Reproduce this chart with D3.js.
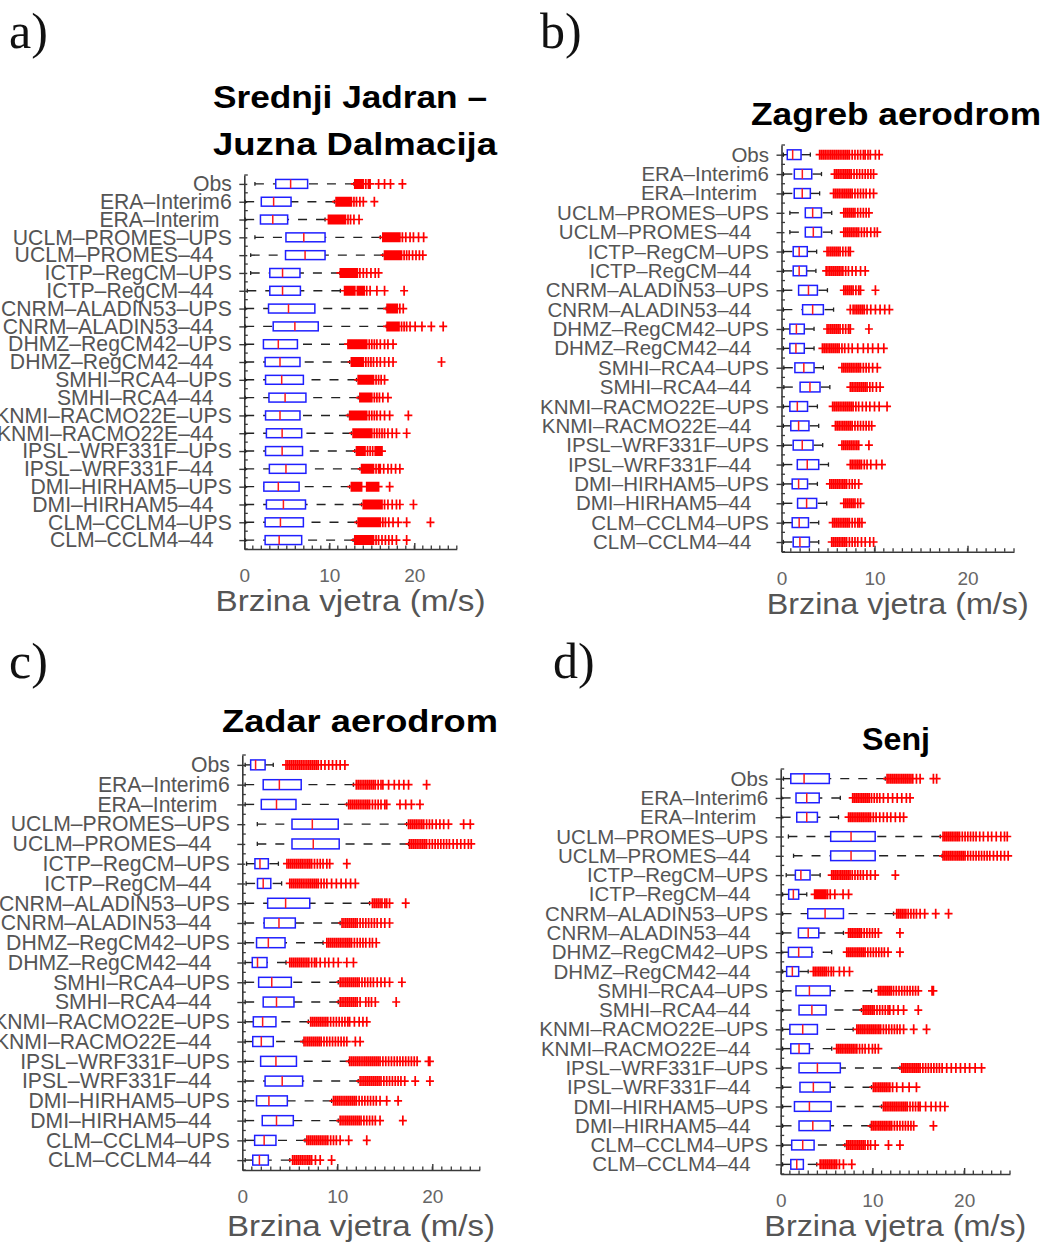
<!DOCTYPE html>
<html>
<head>
<meta charset="utf-8">
<script src="https://cdn.jsdelivr.net/npm/d3@7"></script>
<style>
  html, body { margin: 0; padding: 0; background: #fff; }
  svg { display: block; }
</style>
</head>
<body>
<svg id="chart" width="1047" height="1242"></svg>
<script>
// ---------------- DATA ----------------
const categories = ["Obs","ERA–Interim6","ERA–Interim","UCLM–PROMES–UPS","UCLM–PROMES–44",
  "ICTP–RegCM–UPS","ICTP–RegCM–44","CNRM–ALADIN53–UPS","CNRM–ALADIN53–44",
  "DHMZ–RegCM42–UPS","DHMZ–RegCM42–44","SMHI–RCA4–UPS","SMHI–RCA4–44",
  "KNMI–RACMO22E–UPS","KNMI–RACMO22E–44","IPSL–WRF331F–UPS","IPSL–WRF331F–44",
  "DMI–HIRHAM5–UPS","DMI–HIRHAM5–44","CLM–CCLM4–UPS","CLM–CCLM4–44"];
const xTickValues = [0, 10, 20];
const xDomain = [0, 25];
const xAxisLabel = "Brzina vjetra (m/s)";
const panelLetters = ["a)", "b)", "c)", "d)"];
const panelTitles = [["Srednji Jadran –", "Juzna Dalmacija"], ["Zagreb aerodrom"], ["Zadar aerodrom"], ["Senj"]];

// Panel a: Srednji Jadran – Juzna Dalmacija
const aLow  = [1.25,0.1,0.1,1.25,0.75,0.75,0.35,0.1,0.1,0.1,0.1,0.1,0.1,0.1,0.1,0.1,0.1,0.1,0.1,0.1,0.1];
const aQ1   = [3.7,2.0,1.9,4.9,4.85,3.0,3.0,2.85,3.4,2.25,2.45,2.5,2.9,2.5,2.6,2.5,2.95,2.3,2.6,2.45,2.45];
const aMed  = [5.45,3.45,3.35,7.0,7.15,4.5,4.5,5.2,5.95,4.0,4.2,4.4,4.8,4.2,4.45,4.45,4.9,4.0,4.6,4.25,4.1];
const aQ3   = [7.45,5.5,5.1,9.5,9.5,6.55,6.6,8.3,8.7,6.25,6.55,6.95,7.25,6.55,6.75,6.85,7.25,6.45,7.2,6.95,6.75];
const aHigh = [12.9,10.6,9.5,16.0,16.3,11.25,11.3,16.7,16.7,12.2,12.4,13.2,13.4,12.2,12.6,13.0,13.6,12.4,13.8,13.2,12.8];
const aOut = [
  [13.0,13.2,13.4,13.6,13.8,14.0,14.3,14.6,14.8,15.8,16.5,17.2,18.6],
  [10.8,11.0,11.2,11.4,11.6,11.8,12.0,12.2,12.4,12.6,12.9,13.2,13.6,14.0,15.3],
  [9.9,10.1,10.3,10.5,10.7,10.9,11.1,11.3,11.5,11.7,11.9,12.2,12.5,12.9,13.5],
  [16.3,16.5,16.7,16.9,17.1,17.3,17.5,17.7,17.9,18.1,18.3,18.6,19.0,19.5,19.9,20.5,21.1],
  [16.5,16.7,16.9,17.1,17.3,17.5,17.7,17.9,18.1,18.3,18.5,18.8,19.1,19.4,19.8,20.2,20.6,21.0],
  [11.3,11.5,11.7,11.9,12.1,12.3,12.5,12.7,12.9,13.1,13.3,13.6,14.0,14.4,14.9,15.4,15.8],
  [11.8,12.0,12.2,12.4,12.6,12.8,13.0,13.3,13.5,13.7,13.9,14.1,14.4,14.8,15.6,16.5,18.8],
  [16.8,17.0,17.2,17.4,17.6,17.8,18.0,18.3,18.7],
  [16.8,17.0,17.2,17.4,17.6,17.8,18.0,18.2,18.5,18.8,19.1,19.5,20.1,20.9,22.0,23.4],
  [12.2,12.4,12.6,12.8,13.0,13.2,13.4,13.6,13.8,14.0,14.2,14.4,14.7,15.0,15.3,15.6,16.0,16.5,16.9,17.5],
  [12.6,12.8,13.0,13.2,13.4,13.6,13.8,14.0,14.3,14.6,14.9,15.2,15.6,16.0,16.5,17.0,17.5,23.2],
  [13.4,13.6,13.8,14.0,14.2,14.4,14.6,14.8,15.0,15.2,15.5,15.8,16.1,16.5],
  [13.6,13.8,14.0,14.2,14.4,14.6,14.8,15.0,15.3,15.6,15.9,16.3,16.9],
  [12.4,12.6,12.8,13.0,13.2,13.4,13.6,13.8,14.0,14.2,14.4,14.7,15.0,15.3,15.6,16.0,16.5,17.1,19.3],
  [12.8,13.0,13.2,13.4,13.6,13.8,14.0,14.2,14.4,14.6,14.8,15.0,15.3,15.6,15.9,16.2,16.5,16.9,17.4,17.9,19.1],
  [13.2,13.4,13.6,13.8,14.0,14.2,14.5,14.8,15.1,15.4,15.6,15.8,16.0,16.2],
  [13.8,14.0,14.2,14.4,14.6,14.8,15.0,15.2,15.5,15.8,16.0,16.4,16.9,17.3,17.8,18.3],
  [12.6,12.8,13.0,13.2,13.4,13.6,13.8,14.4,14.6,14.8,15.0,15.2,15.4,15.6,15.8,17.1],
  [14.0,14.2,14.4,14.6,14.8,15.0,15.2,15.4,15.6,15.8,16.0,16.2,16.5,16.9,17.4,17.9,18.3,19.9],
  [13.4,13.6,13.8,14.0,14.2,14.4,14.6,14.8,15.0,15.2,15.4,15.6,15.8,16.0,16.3,16.6,17.0,17.5,18.1,19.1,21.9],
  [13.0,13.2,13.4,13.6,13.8,14.0,14.2,14.4,14.6,14.8,15.0,15.2,15.5,15.8,16.2,16.6,17.0,17.4,17.9,19.1]
];

// Panel b: Zagreb aerodrom
const bLow  = [0.2,0.2,0.2,0.9,0.9,0.2,0.2,0.2,0.2,0.2,0.2,0.25,0.25,0.2,0.2,0.2,0.2,0.2,0.2,0.2,0.2];
const bQ1   = [0.62,1.38,1.37,2.56,2.56,1.26,1.26,1.84,2.27,0.9,0.9,1.44,2.0,0.9,1.0,1.26,1.7,1.15,1.73,1.15,1.26];
const bMed  = [1.2,2.24,2.23,3.35,3.42,1.9,1.9,2.9,3.35,1.6,1.55,2.4,3.06,1.7,1.84,2.23,2.77,1.84,2.7,1.9,1.98];
const bQ3   = [2.1,3.25,3.1,4.3,4.3,2.77,2.7,3.86,4.5,2.45,2.45,3.5,4.14,2.8,2.95,3.39,4.0,2.8,3.78,2.9,3.0];
const bHigh = [3.1,4.3,4.1,5.4,5.4,3.78,3.7,4.94,5.6,3.5,3.5,4.5,5.2,3.86,4.0,4.43,5.05,3.86,4.86,4.0,4.0];
const bOut = [
  [4.1,4.3,4.5,4.7,4.9,5.1,5.3,5.5,5.7,5.9,6.1,6.3,6.5,6.7,6.9,7.1,7.3,7.6,7.9,8.2,8.5,8.8,9.0,9.3,9.55,10.1,10.5],
  [5.7,5.9,6.1,6.3,6.5,6.7,6.9,7.1,7.3,7.5,7.8,8.1,8.4,8.7,9.0,9.3,9.6,9.9],
  [5.6,5.8,6.0,6.2,6.4,6.6,6.8,7.0,7.2,7.4,7.6,7.9,8.2,8.5,8.8,9.1,9.5,9.9],
  [6.7,6.9,7.1,7.3,7.5,7.7,7.9,8.2,8.5,8.8,9.1,9.4],
  [6.7,6.9,7.1,7.3,7.5,7.7,7.9,8.1,8.3,8.6,8.9,9.2,9.6,10.0,10.3],
  [4.9,5.1,5.3,5.5,5.7,5.9,6.1,6.3,6.6,6.9,7.2,7.4],
  [4.8,5.0,5.2,5.4,5.6,5.8,6.0,6.2,6.4,6.6,6.9,7.2,7.6,8.0,8.5,9.0],
  [6.7,6.9,7.1,7.3,7.5,7.7,8.0,8.3,8.5,10.1],
  [7.4,7.7,7.9,8.1,8.3,8.5,8.7,8.9,9.2,9.6,10.1,10.6,11.1,11.6],
  [4.9,5.1,5.3,5.5,5.7,5.9,6.1,6.3,6.6,6.9,7.2,7.4,9.4],
  [4.4,4.6,4.8,5.0,5.2,5.4,5.6,5.8,6.0,6.2,6.5,6.8,7.2,7.6,8.2,8.8,9.3,9.8,10.4,11.0],
  [6.5,6.7,6.9,7.1,7.3,7.5,7.7,7.9,8.1,8.3,8.5,8.8,9.1,9.4,9.8,10.3],
  [7.4,7.6,7.8,8.0,8.2,8.4,8.6,8.8,9.0,9.2,9.5,9.8,10.2,10.6],
  [5.5,5.7,5.9,6.1,6.3,6.5,6.7,6.9,7.1,7.3,7.5,7.7,8.0,8.3,8.7,9.1,9.5,10.0,10.5,11.35],
  [5.8,6.0,6.2,6.4,6.6,6.8,7.0,7.2,7.4,7.6,7.9,8.2,8.5,8.8,9.1,9.4,9.7],
  [6.5,6.7,6.9,7.1,7.3,7.5,7.7,7.9,8.1,8.3,9.4],
  [7.4,7.6,7.8,8.0,8.2,8.4,8.6,8.9,9.2,9.6,10.2,10.8],
  [5.2,5.4,5.6,5.8,6.0,6.2,6.4,6.6,6.8,7.0,7.3,7.6,7.9,8.3],
  [6.7,6.9,7.1,7.3,7.5,7.7,7.9,8.2,8.5],
  [5.5,5.7,5.9,6.1,6.3,6.5,6.7,6.9,7.1,7.3,7.6,7.9,8.2,8.4,8.65],
  [5.4,5.6,5.8,6.0,6.2,6.4,6.6,6.8,7.0,7.3,7.6,7.9,8.2,8.6,9.0,9.5,9.9]
];

// Panel c: Zadar aerodrom
const cLow  = [0.3,0.3,0.3,1.58,1.58,0.45,0.4,0.3,0.3,0.3,0.3,0.3,0.3,0.3,0.3,0.3,0.3,0.3,0.3,0.3,0.3];
const cQ1   = [0.88,2.2,2.0,5.23,5.23,1.33,1.6,2.67,2.3,1.5,1.05,1.72,2.2,1.16,1.1,1.93,2.4,1.5,2.1,1.3,1.1];
const cMed  = [1.4,3.9,3.6,7.37,7.47,1.86,2.2,4.56,3.86,2.74,1.6,3.1,3.6,2.14,2.0,3.54,4.2,2.8,3.6,2.3,1.8];
const cQ3   = [2.4,6.2,5.65,10.1,10.2,2.74,3.0,7.1,5.58,4.5,2.6,5.16,5.44,3.54,3.26,5.7,6.35,4.74,5.37,3.54,2.74];
const cHigh = [3.26,11.7,11.0,17.3,17.5,3.8,4.14,13.4,10.3,8.5,4.6,10.1,10.1,6.95,6.4,11.2,12.2,9.4,10.1,6.6,5.0];
const cOut = [
  [4.6,4.8,5.0,5.2,5.4,5.6,5.8,6.0,6.2,6.4,6.6,6.8,7.0,7.2,7.4,7.6,7.8,8.0,8.3,8.7,9.1,9.5,9.9,10.3,10.8],
  [12.0,12.2,12.4,12.6,12.8,13.0,13.2,13.4,13.6,13.8,14.0,14.3,14.6,14.8,15.4,16.0,16.5,17.0,17.5,19.4],
  [11.2,11.4,11.6,11.8,12.0,12.2,12.4,12.6,12.8,13.0,13.2,13.4,13.7,14.0,14.3,14.6,15.0,15.2,16.6,17.2,17.8,18.7],
  [17.5,17.7,17.9,18.1,18.3,18.5,18.7,18.9,19.1,19.4,19.7,20.0,20.4,20.8,21.2,21.7,23.3,24.0],
  [17.6,17.8,18.0,18.2,18.4,18.6,18.8,19.0,19.2,19.4,19.7,20.0,20.3,20.6,20.9,21.2,21.5,21.8,22.2,22.6,23.0,23.4,23.8,24.1],
  [4.7,4.9,5.1,5.3,5.5,5.7,5.9,6.1,6.3,6.5,6.7,6.9,7.1,7.3,7.6,7.9,8.2,8.5,8.9,9.2,11.0],
  [5.0,5.2,5.4,5.6,5.8,6.0,6.2,6.4,6.6,6.8,7.0,7.2,7.4,7.6,7.8,8.0,8.3,8.6,8.9,9.4,9.9,10.4,10.9,11.4,11.9],
  [13.7,13.9,14.1,14.3,14.5,14.7,15.0,15.2,15.5,17.2],
  [10.5,10.7,10.9,11.1,11.3,11.5,11.7,11.9,12.1,12.4,12.7,13.0,13.3,13.6,13.9,14.2,14.6,15.0,15.5],
  [8.9,9.1,9.3,9.5,9.7,9.9,10.1,10.3,10.5,10.7,10.9,11.1,11.3,11.5,11.8,12.1,12.4,12.7,13.0,13.4,13.7,14.1],
  [5.0,5.2,5.4,5.6,5.8,6.0,6.2,6.4,6.6,6.8,7.0,7.3,7.6,7.8,8.2,8.7,9.1,9.6,10.1,11.0,11.7],
  [10.3,10.5,10.7,10.9,11.1,11.3,11.5,11.7,11.9,12.1,12.3,12.6,12.9,13.2,13.5,13.8,14.2,14.6,15.0,15.5,16.8],
  [10.3,10.5,10.7,10.9,11.1,11.3,11.5,11.7,11.9,12.1,12.4,13.0,13.3,13.6,14.0,16.2],
  [7.2,7.4,7.6,7.8,8.0,8.2,8.4,8.6,8.8,9.0,9.3,9.6,9.9,10.2,10.5,10.8,11.1,11.3,11.8,12.3,12.7,13.1],
  [6.5,6.7,6.9,7.1,7.3,7.5,7.7,7.9,8.1,8.3,8.6,8.9,9.2,9.5,9.8,10.1,10.4,10.7,11.0,11.9,12.4],
  [11.3,11.5,11.7,11.9,12.1,12.3,12.5,12.7,12.9,13.1,13.3,13.5,13.7,13.9,14.1,14.3,14.5,14.8,15.1,15.4,15.7,16.0,16.3,16.6,16.9,17.2,17.5,17.8,18.1,18.4,19.6,19.75],
  [12.4,12.6,12.8,13.0,13.2,13.4,13.6,13.8,14.0,14.2,14.4,14.6,14.9,15.2,15.5,15.8,16.1,16.4,16.7,17.1,18.2,19.75],
  [9.6,9.8,10.0,10.2,10.4,10.6,10.8,11.0,11.2,11.4,11.6,11.8,12.0,12.3,12.6,12.9,13.2,13.5,13.8,14.1,14.5,15.2,16.4],
  [10.3,10.5,10.7,10.9,11.1,11.3,11.5,11.7,11.9,12.1,12.3,12.5,12.8,13.1,13.4,13.7,14.0,14.5,16.9],
  [6.8,7.0,7.2,7.4,7.6,7.8,8.0,8.2,8.4,8.6,8.8,9.0,9.3,9.6,9.9,10.3,11.2,13.1],
  [5.3,5.5,5.7,5.9,6.1,6.3,6.5,6.7,6.9,7.1,7.3,7.7,8.2,9.4]
];

// Panel d: Senj
const dLow  = [0.3,0.1,0.1,0.84,1.4,0.6,0.2,0.2,0.2,0.1,0.2,0.2,0.2,0.2,0.2,0.2,0.2,0.2,0.2,0.2,0.2];
const dQ1   = [1.1,1.67,1.75,5.45,5.45,1.6,0.87,2.95,1.93,0.84,0.65,1.67,2.0,1.0,1.1,2.0,2.1,1.5,2.0,1.2,1.1];
const dMed  = [2.55,2.84,2.84,7.67,7.67,2.2,1.38,4.84,3.0,1.96,1.27,3.13,3.4,2.4,2.0,4.0,3.56,3.13,3.5,2.4,1.75];
const dQ3   = [5.3,4.2,4.0,10.3,10.3,3.2,1.96,6.84,4.15,3.4,1.96,5.4,4.95,4.0,3.13,6.5,5.4,5.5,5.4,3.64,2.47];
const dHigh = [11.4,6.5,6.3,17.4,17.6,4.3,2.84,12.3,6.84,5.56,3.0,9.9,8.8,7.9,5.56,13.0,9.9,11.0,9.75,7.0,3.93];
const dOut = [
  [11.6,11.8,12.0,12.2,12.4,12.6,12.8,13.0,13.2,13.4,13.6,13.8,14.0,14.2,14.4,14.8,15.2,16.65,17.0],
  [7.85,8.05,8.25,8.45,8.65,8.85,9.05,9.25,9.45,9.65,9.9,10.2,10.5,10.8,11.2,11.7,12.2,12.7,13.2,13.7,14.1],
  [7.4,7.6,7.8,8.0,8.2,8.4,8.6,8.8,9.0,9.2,9.4,9.6,9.8,10.1,10.4,10.8,11.2,11.6,12.0,12.5,13.0,13.4],
  [17.7,17.9,18.1,18.3,18.5,18.7,18.9,19.1,19.3,19.5,19.8,20.1,20.4,20.7,21.0,21.3,21.7,22.1,22.6,23.0,23.5,24.0,24.4,24.7],
  [17.7,17.9,18.1,18.3,18.5,18.7,18.9,19.1,19.3,19.5,19.7,19.9,20.1,20.4,20.7,21.0,21.3,21.6,21.9,22.2,22.5,22.8,23.2,23.6,24.0,24.4,24.8],
  [5.56,5.76,5.96,6.16,6.36,6.56,6.76,6.96,7.16,7.36,7.56,7.8,8.1,8.4,8.7,9.0,9.4,9.8,10.3,12.5],
  [3.7,3.85,4.0,4.15,4.3,4.45,4.6,4.75,4.9,5.1,5.4,5.9,6.8,7.4],
  [12.65,12.85,13.05,13.25,13.45,13.65,13.9,14.2,14.5,14.8,15.2,15.7,16.9,18.3],
  [7.4,7.6,7.8,8.0,8.2,8.4,8.6,8.8,9.1,9.4,9.7,10.0,10.3,10.65,13.0],
  [7.2,7.4,7.6,7.8,8.0,8.2,8.4,8.6,8.8,9.0,9.2,9.5,9.8,10.1,10.4,10.7,11.0,11.3,11.7,13.0],
  [3.56,3.76,3.96,4.16,4.36,4.56,4.76,4.96,5.2,5.5,5.75,6.4,6.9,7.5],
  [10.65,10.85,11.05,11.25,11.45,11.65,11.85,12.05,12.3,12.6,12.9,13.2,13.5,13.8,14.1,14.4,14.7,15.0,16.5,16.65],
  [9.0,9.2,9.4,9.6,9.8,10.0,10.2,10.5,10.8,11.1,11.4,11.7,11.9,12.3,12.8,13.4,15.0],
  [8.3,8.5,8.7,8.9,9.1,9.3,9.5,9.7,9.9,10.1,10.3,10.5,10.7,10.9,11.2,11.5,11.8,12.1,12.4,12.7,13.0,13.4,14.5,15.9],
  [6.1,6.3,6.5,6.7,6.9,7.1,7.3,7.5,7.7,7.9,8.1,8.3,8.6,8.9,9.2,9.6,10.0,10.3,10.65],
  [13.2,13.4,13.6,13.8,14.0,14.2,14.4,14.6,14.8,15.0,15.2,15.5,15.8,16.1,16.4,16.7,17.0,17.3,17.6,18.1,18.6,19.1,19.6,20.1,20.6,21.2,21.9],
  [10.1,10.3,10.5,10.7,10.9,11.1,11.3,11.5,11.7,11.9,12.2,12.65,13.3,14.0,14.8],
  [11.2,11.4,11.6,11.8,12.0,12.2,12.4,12.6,12.8,13.0,13.2,13.4,13.6,13.8,14.1,14.4,14.7,15.0,15.2,15.8,16.4,16.9,17.4,17.9],
  [9.9,10.1,10.3,10.5,10.7,10.9,11.1,11.3,11.5,11.7,11.9,12.1,12.4,12.7,13.0,13.3,13.6,13.9,14.2,14.5,16.65],
  [7.2,7.4,7.6,7.8,8.0,8.2,8.4,8.6,8.8,9.0,9.2,9.5,9.8,10.3,11.75,13.0],
  [4.3,4.5,4.7,4.9,5.1,5.3,5.5,5.7,5.9,6.1,6.4,6.84,7.75]
];

// ---------------- LAYOUT ----------------
const layout = [
  { x0: 244.3, x1: 456.8, yTop: 175, yBot: 549, labelSize: 21.2,
    letter: {x: 9, y: 48}, titleX: 213, titleY: [108, 155], titleLen: [274, 284],
    xlabY: 611, xlabLen: 270 },
  { x0: 781.5, x1: 1014, yTop: 145, yBot: 551.7, labelSize: 20.5,
    letter: {x: 540, y: 48}, titleX: 751, titleY: [125], titleLen: [290],
    xlabY: 614, xlabLen: 262 },
  { x0: 242.3, x1: 479.8, yTop: 755, yBot: 1170, labelSize: 21.2,
    letter: {x: 9, y: 678}, titleX: 222, titleY: [732], titleLen: [276],
    xlabY: 1236, xlabLen: 268 },
  { x0: 780.7, x1: 1010, yTop: 769, yBot: 1174, labelSize: 20.5,
    letter: {x: 553, y: 678}, titleX: 862, titleY: [750], titleLen: [68],
    xlabY: 1236, xlabLen: 262 }
];

const panels = [
  { low: aLow, q1: aQ1, med: aMed, q3: aQ3, high: aHigh, out: aOut },
  { low: bLow, q1: bQ1, med: bMed, q3: bQ3, high: bHigh, out: bOut },
  { low: cLow, q1: cQ1, med: cMed, q3: cQ3, high: cHigh, out: cOut },
  { low: dLow, q1: dQ1, med: dMed, q3: dQ3, high: dHigh, out: dOut }
];

const svg = d3.select("#chart");
svg.append("rect").attr("width", 1047).attr("height", 1242).attr("fill", "#fff");

const labelFont = "'Liberation Sans', Arial, sans-serif";
const axisColor = "#3a3a3a";
const textGrey = "#555";

panels.forEach((p, pi) => {
  const L = layout[pi];
  const g = svg.append("g");
  const x = d3.scaleLinear().domain(xDomain).range([L.x0, L.x1]);
  const y = d3.scalePoint().domain(categories).range([L.yTop, L.yBot]).padding(0.5);
  const step = y.step();

  // panel letter
  g.append("text").attr("x", L.letter.x).attr("y", L.letter.y)
    .attr("font-family", "'Liberation Serif', 'DejaVu Serif', serif")
    .attr("font-size", 50).attr("fill", "#111").text(panelLetters[pi]);

  // title
  panelTitles[pi].forEach((t, ti) => {
    g.append("text").attr("x", L.titleX).attr("y", L.titleY[ti])
      .attr("font-family", labelFont).attr("font-weight", "bold")
      .attr("font-size", 32).attr("fill", "#000")
      .attr("textLength", L.titleLen[ti]).attr("lengthAdjust", "spacingAndGlyphs")
      .text(t);
  });

  // left axis (categories)
  const yAxis = d3.axisLeft(y).tickSizeInner(5).tickSizeOuter(0).tickPadding(7.5);
  const yg = g.append("g").attr("transform", `translate(${L.x0},0)`).call(yAxis);
  yg.select(".domain").attr("stroke", axisColor).attr("stroke-width", 1.6);
  yg.selectAll(".tick line").attr("stroke", axisColor).attr("stroke-width", 1.4)
    .attr("x2", -5).attr("x1", 3);
  yg.selectAll(".tick text")
    .attr("font-family", labelFont).attr("font-size", L.labelSize).attr("fill", textGrey)
    .attr("dx", d => d.endsWith("44") ? "-0.86em" : (d === "ERA–Interim" ? "-0.58em" : 0));
  // minor ticks between categories
  const minor = d3.range(0, categories.length + 1).map(k => L.yTop + k * step);
  g.append("g").selectAll("line").data(minor).join("line")
    .attr("x1", L.x0).attr("x2", L.x0 + 3.5).attr("y1", d => d).attr("y2", d => d)
    .attr("stroke", axisColor).attr("stroke-width", 1.3);

  // bottom axis
  const xAxis = d3.axisBottom(x).tickValues(xTickValues).tickSizeInner(-6).tickSizeOuter(0).tickPadding(20);
  const xg = g.append("g").attr("transform", `translate(0,${L.yBot})`).call(xAxis);
  xg.select(".domain").attr("stroke", axisColor).attr("stroke-width", 1.6);
  xg.selectAll(".tick line").attr("stroke", axisColor).attr("stroke-width", 1.4);
  xg.selectAll(".tick text").attr("font-family", labelFont).attr("font-size", 19).attr("fill", "#666");
  const xMinor = d3.range(xDomain[0] + 1, xDomain[1] + 1, 1);
  g.append("g").selectAll("line").data(xMinor).join("line")
    .attr("x1", d => x(d)).attr("x2", d => x(d)).attr("y1", L.yBot).attr("y2", L.yBot - 3.5)
    .attr("stroke", axisColor).attr("stroke-width", 1.3);

  // x axis label
  g.append("text").attr("x", (L.x0 + L.x1) / 2).attr("y", L.xlabY)
    .attr("text-anchor", "middle").attr("font-family", labelFont)
    .attr("font-size", 30).attr("fill", textGrey)
    .attr("textLength", L.xlabLen).attr("lengthAdjust", "spacingAndGlyphs")
    .text(xAxisLabel);

  // boxes
  const rows = categories.map((c, i) => ({
    c, low: p.low[i], q1: p.q1[i], med: p.med[i], q3: p.q3[i], high: p.high[i], out: p.out[i]
  }));
  const bh = step * 0.5;
  const rg = g.append("g").selectAll("g").data(rows).join("g")
    .attr("transform", d => `translate(0,${y(d.c)})`);

  // whiskers (drawn from whisker end toward box)
  rg.append("line").attr("x1", d => x(d.low)).attr("x2", d => x(d.q1)).attr("y1", 0).attr("y2", 0)
    .attr("stroke", "#222").attr("stroke-width", 1.4).attr("stroke-dasharray", "9,9");
  rg.append("line").attr("x1", d => x(d.high)).attr("x2", d => x(d.q3)).attr("y1", 0).attr("y2", 0)
    .attr("stroke", "#222").attr("stroke-width", 1.4).attr("stroke-dasharray", "9,9");
  // caps
  rg.append("line").attr("x1", d => x(d.low)).attr("x2", d => x(d.low))
    .attr("y1", -step * 0.11).attr("y2", step * 0.11).attr("stroke", "#222").attr("stroke-width", 1.3);
  rg.append("line").attr("x1", d => x(d.high)).attr("x2", d => x(d.high))
    .attr("y1", -step * 0.11).attr("y2", step * 0.11).attr("stroke", "#222").attr("stroke-width", 1.3);
  // box
  rg.append("rect").attr("x", d => x(d.q1)).attr("width", d => x(d.q3) - x(d.q1))
    .attr("y", -bh / 2).attr("height", bh)
    .attr("fill", "none").attr("stroke", "#1f1fff").attr("stroke-width", 1.5);
  // median
  rg.append("line").attr("x1", d => x(d.med)).attr("x2", d => x(d.med))
    .attr("y1", -bh / 2).attr("y2", bh / 2).attr("stroke", "#ff1a1a").attr("stroke-width", 1.5);
  // outliers (+)
  const hw = 4, hh = 5;
  rg.append("path")
    .attr("d", d => d.out.map(v => {
      const cx = x(v);
      return `M${cx - hw},0H${cx + hw}M${cx},${-hh}V${hh}`;
    }).join(""))
    .attr("fill", "none").attr("stroke", "#ff0000").attr("stroke-width", 1.7);
});
</script>
</body>
</html>
